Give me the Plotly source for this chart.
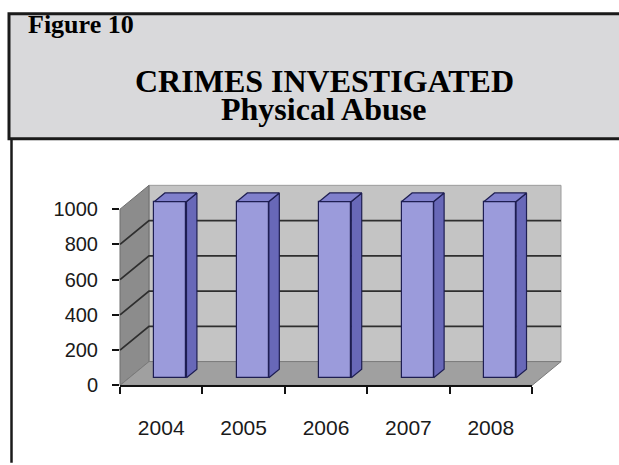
import plotly.graph_objects as go

# ---------------- data ----------------
years = ["2004", "2005", "2006", "2007", "2008"]
cases = [1000, 1000, 1000, 1000, 1000]
y_ticks = [0, 200, 400, 600, 800, 1000]
fig_label = "Figure 10"
title_1 = "CRIMES INVESTIGATED"
title_2 = "Physical Abuse"

# ---------------- geometry (pixels) ----------------
W, H = 619, 465
AX_L, AX_R = 120, 532        # front category axis ends
AX_Y0, AX_Y1 = 393, 208      # pixel y of 0 and of YMAX on the front plane
YMAX = y_ticks[-1]
DEPTH_PX = (29, 25)          # oblique offset of the back wall
BAR_D0, BAR_D1 = 0.32, 0.68  # bar depth span (fraction of full depth)
BAR_W_PX = 32

n = len(years)
S = (AX_R - AX_L) / n
X0 = AX_L + S / 2
K = (AX_Y0 - AX_Y1) / YMAX
dxu = DEPTH_PX[0] / S
dyu = DEPTH_PX[1] / K
xr = [(0 - X0) / S, (W - X0) / S]
yr = [(AX_Y0 - H) / K, AX_Y0 / K]


def P(x, y, d):
    return (x + d * dxu, y + d * dyu)


def polys(list_of_pts):
    xs, ys = [], []
    for pts in list_of_pts:
        for (a, b) in pts + [pts[0]]:
            xs.append(a)
            ys.append(b)
        xs.append(None)
        ys.append(None)
    return xs, ys


fig = go.Figure()

L, R = -0.5, n - 0.5
# back wall
bx, by = polys([[P(L, 0, 1), P(R, 0, 1), P(R, YMAX, 1), P(L, YMAX, 1)]])
fig.add_trace(go.Scatter(x=bx, y=by, fill="toself", fillcolor="#c4c4c4",
                         line=dict(color="#9c9c9c", width=1), mode="lines",
                         hoverinfo="skip", showlegend=False))
# left wall
lx, ly = polys([[P(L, 0, 0), P(L, 0, 1), P(L, YMAX, 1), P(L, YMAX, 0)]])
fig.add_trace(go.Scatter(x=lx, y=ly, fill="toself", fillcolor="#8c8c8c",
                         line=dict(color="#6e6e6e", width=1), mode="lines",
                         hoverinfo="skip", showlegend=False))
# floor
fx, fy = polys([[P(L, 0, 0), P(R, 0, 0), P(R, 0, 1), P(L, 0, 1)]])
fig.add_trace(go.Scatter(x=fx, y=fy, fill="toself", fillcolor="#a0a0a0",
                         line=dict(color="#7a7a7a", width=1), mode="lines",
                         hoverinfo="skip", showlegend=False))
# gridlines on walls
gx, gy = [], []
for t in y_ticks[1:-1]:
    for pt in [P(L, t, 0), P(L, t, 1), P(R, t, 1)]:
        gx.append(pt[0])
        gy.append(pt[1])
    gx.append(None)
    gy.append(None)
fig.add_trace(go.Scatter(x=gx, y=gy, mode="lines",
                         line=dict(color="#2e2e2e", width=1.8),
                         hoverinfo="skip", showlegend=False))

# ---------------- bars (overlay subplot on top of walls) ----------------
bw = BAR_W_PX / S
base0 = BAR_D0 * dyu
dd = BAR_D1 - BAR_D0
fig.add_trace(go.Bar(x=[i + BAR_D0 * dxu for i in range(n)], y=cases, base=base0,
                     width=bw, marker=dict(color="#9b9bdb",
                                           line=dict(color="#1e1e52", width=1.2)),
                     xaxis="x3", yaxis="y3", hoverinfo="skip", showlegend=False))
side, top = [], []
for i, v in enumerate(cases):
    xl = i + BAR_D0 * dxu - bw / 2
    xrr = xl + bw
    side.append([(xrr, base0), (xrr, base0 + v),
                 (xrr + dd * dxu, base0 + v + dd * dyu), (xrr + dd * dxu, base0 + dd * dyu)])
    top.append([(xl, base0 + v), (xrr, base0 + v),
                (xrr + dd * dxu, base0 + v + dd * dyu), (xl + dd * dxu, base0 + v + dd * dyu)])
sx, sy = polys(side)
fig.add_trace(go.Scatter(x=sx, y=sy, fill="toself", fillcolor="#6868b8",
                         line=dict(color="#1e1e52", width=1.2), mode="lines",
                         xaxis="x3", yaxis="y3", hoverinfo="skip", showlegend=False))
tx, ty = polys(top)
fig.add_trace(go.Scatter(x=tx, y=ty, fill="toself", fillcolor="#8080cc",
                         line=dict(color="#1e1e52", width=1.2), mode="lines",
                         xaxis="x3", yaxis="y3", hoverinfo="skip", showlegend=False))

# ---------------- axes subplot (ticks + labels only) ----------------
fig.add_trace(go.Scatter(x=years, y=cases, mode="markers", marker=dict(opacity=0),
                         xaxis="x2", yaxis="y2", hoverinfo="skip", showlegend=False))

tickfont = dict(family="Liberation Sans, Arial, sans-serif", size=21, color="#1a1a1a")
hidden = dict(visible=False, showgrid=False, zeroline=False, fixedrange=True)
fig.update_layout(
    width=W, height=H, margin=dict(l=0, r=0, t=0, b=0),
    paper_bgcolor="white", plot_bgcolor="rgba(0,0,0,0)",
    xaxis=dict(domain=[0, 1], range=xr, anchor="y", **hidden),
    yaxis=dict(domain=[0, 1], range=yr, anchor="x", **hidden),
    xaxis3=dict(overlaying="x", range=xr, anchor="y3", **hidden),
    yaxis3=dict(overlaying="y", range=yr, anchor="x3", **hidden),
    xaxis2=dict(domain=[AX_L / W, AX_R / W], type="category", categoryarray=years,
                range=[-0.5, n - 0.5], anchor="y2", showline=True, linecolor="#111111",
                linewidth=1.5, ticks="outside", tickson="boundaries", ticklen=7,
                tickwidth=1.5, tickcolor="#111111", tickfont=tickfont,
                showgrid=False, zeroline=False, ticklabelstandoff=23),
    yaxis2=dict(domain=[(H - AX_Y0) / H, (H - AX_Y1) / H], range=[0, YMAX],
                tickvals=y_ticks, anchor="x2", showline=False, ticks="outside",
                ticklen=7, tickwidth=1.5, tickcolor="#111111",
                tickfont=dict(family="Liberation Sans, Arial, sans-serif", size=20,
                              color="#1a1a1a"),
                showgrid=False, zeroline=False, ticklabelstandoff=10),
    bargap=0,
)

# ---------------- header frame & titles ----------------
fig.add_shape(type="rect", xref="paper", yref="paper",
              x0=9 / W, x1=1.05, y0=1 - 134 / H, y1=1 - 3 / H,
              fillcolor="#d9d9db", line=dict(color="#1a1a1a", width=3), layer="below")
fig.add_shape(type="line", xref="paper", yref="paper",
              x0=11.5 / W, x1=11.5 / W, y0=1 - 135 / H, y1=-0.02,
              line=dict(color="#1a1a1a", width=2.5))

serif = "Liberation Serif, Times New Roman, serif"
fig.add_annotation(text="<b>%s</b>" % fig_label, xref="paper", yref="paper",
                   x=26 / W, y=1 - 14 / H, xanchor="left", yanchor="middle",
                   showarrow=False, font=dict(family=serif, size=26, color="black"))
fig.add_annotation(text="<b>%s</b>" % title_1, xref="paper", yref="paper",
                   x=324 / W, y=1 - 73 / H, xanchor="center", yanchor="middle",
                   showarrow=False, font=dict(family=serif, size=32, color="black"))
fig.add_annotation(text="<b>%s</b>" % title_2, xref="paper", yref="paper",
                   x=323 / W, y=1 - 103 / H, xanchor="center", yanchor="middle",
                   showarrow=False, font=dict(family=serif, size=32, color="black"))

fig.write_html("out.html")
